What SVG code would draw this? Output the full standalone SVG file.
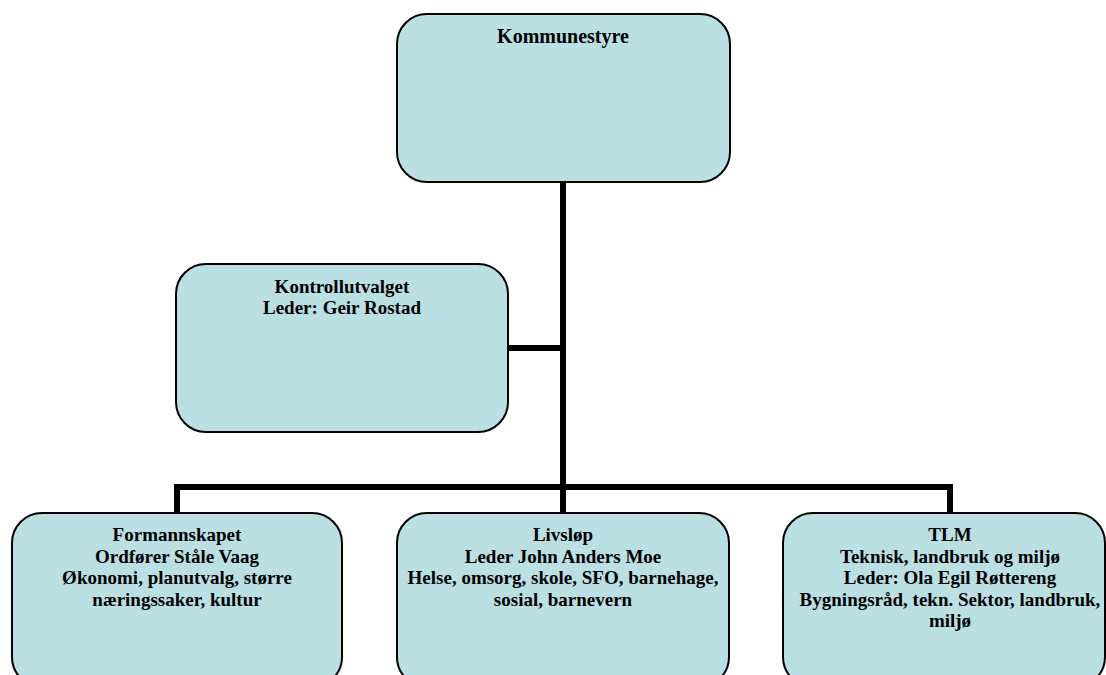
<svg xmlns="http://www.w3.org/2000/svg" width="1106" height="675" viewBox="0 0 1106 675">
<style>
.box{fill:#BAE0E3;stroke:#000;stroke-width:2}
.t{font-family:"Liberation Serif","Times New Roman",serif;font-weight:bold;font-size:19px;fill:#000;text-anchor:middle}
.c{fill:none;stroke:#000;stroke-width:6;stroke-linejoin:miter;stroke-linecap:butt}
</style>
<rect width="1106" height="675" fill="#fff"/>
<g id="connectors">
<line class="c" x1="563" y1="182" x2="563" y2="513"/>
<line class="c" x1="508" y1="348" x2="563" y2="348"/>
<polyline class="c" points="177,513 177,487 950,487 950,513"/>
</g>
<g id="kommunestyre">
<rect class="box" x="397" y="14" width="333" height="168" rx="30"/>
<text class="t" x="563" y="43" style="font-size:20px">Kommunestyre</text>
</g>
<g id="kontrollutvalget">
<rect class="box" x="176" y="264" width="332" height="168" rx="30"/>
<text class="t" x="342" y="293">Kontrollutvalget</text>
<text class="t" x="342" y="314">Leder: Geir Rostad</text>
</g>
<g id="formannskapet">
<rect class="box" x="12" y="513" width="330" height="174" rx="30"/>
<text class="t" x="177" y="541">Formannskapet</text>
<text class="t" x="177" y="563">Ordfører Ståle Vaag</text>
<text class="t" x="177" y="584">Økonomi, planutvalg, større</text>
<text class="t" x="177" y="606">næringssaker, kultur</text>
</g>
<g id="livslop">
<rect class="box" x="397" y="513" width="332" height="174" rx="30"/>
<text class="t" x="563" y="541">Livsløp</text>
<text class="t" x="563" y="563">Leder John Anders Moe</text>
<text class="t" x="563" y="584">Helse, omsorg, skole, SFO, barnehage,</text>
<text class="t" x="563" y="606">sosial, barnevern</text>
</g>
<g id="tlm">
<rect class="box" x="783" y="513" width="322" height="174" rx="30"/>
<text class="t" x="950" y="541">TLM</text>
<text class="t" x="950" y="563">Teknisk, landbruk og miljø</text>
<text class="t" x="950" y="584">Leder: Ola Egil Røttereng</text>
<text class="t" x="950" y="606">Bygningsråd, tekn. Sektor, landbruk,</text>
<text class="t" x="950" y="627">miljø</text>
</g>
</svg>
